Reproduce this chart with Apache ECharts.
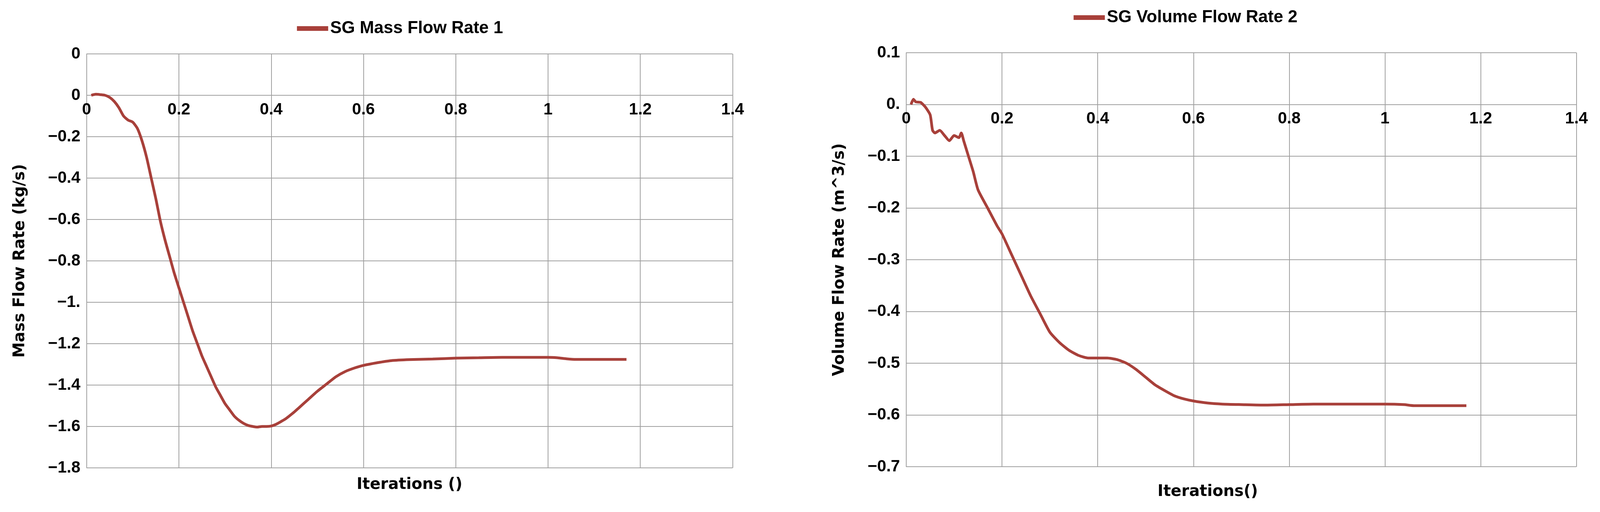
<!DOCTYPE html>
<html>
<head>
<meta charset="utf-8">
<script src="https://cdn.jsdelivr.net/npm/echarts@6/dist/echarts.min.js"></script>
<style>html,body{margin:0;padding:0;background:#fff;overflow:hidden}#c{width:100vw;height:100vh}</style>
</head>
<body>
<div id="c"></div>
<script>
// SG 质量流量
var massX = [0.01,0.02,0.03,0.04,0.05,0.06,0.07,0.08,0.09,0.1,0.11,0.12,0.13,0.14,0.15,0.16,0.17,0.18,0.19,0.2,0.21,0.22,0.23,0.24,0.25,0.26,0.27,0.28,0.29,0.3,0.31,0.32,0.33,0.34,0.35,0.36,0.37,0.38,0.39,0.4,0.41,0.42,0.43,0.44,0.45,0.46,0.48,0.5,0.52,0.54,0.56,0.58,0.6,0.63,0.66,0.7,0.75,0.8,0.85,0.9,0.95,1.0,1.02,1.04,1.06,1.1,1.14,1.17];
var massY = [0,0.005,0.003,0,-0.01,-0.03,-0.06,-0.1,-0.12,-0.13,-0.16,-0.22,-0.3,-0.4,-0.5,-0.61,-0.7,-0.78,-0.86,-0.93,-1.0,-1.07,-1.14,-1.2,-1.26,-1.31,-1.36,-1.41,-1.45,-1.49,-1.52,-1.55,-1.57,-1.585,-1.595,-1.6,-1.603,-1.6,-1.6,-1.598,-1.59,-1.578,-1.565,-1.548,-1.53,-1.51,-1.47,-1.43,-1.395,-1.36,-1.335,-1.318,-1.305,-1.292,-1.282,-1.277,-1.274,-1.27,-1.268,-1.266,-1.266,-1.266,-1.268,-1.273,-1.276,-1.276,-1.276,-1.276];
// SG 体积流量
var volX = [0.01,0.015,0.02,0.03,0.04,0.05,0.055,0.06,0.07,0.08,0.09,0.1,0.11,0.115,0.12,0.13,0.14,0.15,0.17,0.19,0.2,0.22,0.24,0.26,0.28,0.3,0.32,0.34,0.36,0.38,0.4,0.42,0.44,0.46,0.48,0.5,0.52,0.54,0.56,0.58,0.6,0.63,0.66,0.7,0.75,0.8,0.85,0.9,0.95,1.0,1.04,1.06,1.1,1.17];
var volY = [0,0.01,0.005,0.004,-0.005,-0.02,-0.05,-0.055,-0.05,-0.06,-0.07,-0.06,-0.064,-0.055,-0.07,-0.1,-0.13,-0.165,-0.2,-0.235,-0.25,-0.29,-0.33,-0.37,-0.405,-0.44,-0.46,-0.475,-0.485,-0.49,-0.49,-0.49,-0.493,-0.5,-0.512,-0.527,-0.542,-0.553,-0.563,-0.569,-0.573,-0.577,-0.579,-0.58,-0.581,-0.58,-0.579,-0.579,-0.579,-0.579,-0.58,-0.582,-0.582,-0.582];
var massTicks = {'0.2':'0','0':'0','-1':'\u22121.'};
var volTicks = {'0':'0.'};

var lineColor = '#a8403a';
var W = 4285, H = 1311;
var tickFont = {fontFamily:'Liberation Sans', fontWeight:'bold', fontSize:42, color:'#000'};
var titleFont = {fontFamily:'DejaVu Sans', fontWeight:'bold', fontSize:40, color:'#000'};
var legFont = {fontFamily:'Liberation Sans', fontWeight:'bold', fontSize:44, color:'#000'};
function px(v, tot){ return (v / tot * 100) + '%'; }

function fmt(map){
  return function(v){
    var k = String(Math.round(v*10)/10);
    if (map[k] !== undefined) return map[k];
    return k.replace('-', '\u2212');
  };
}
function pairs(xs, ys){ return xs.map(function(x,i){ return [x, ys[i]]; }); }
function xAx(idx, zeroOff){
  return {type:'value', gridIndex:idx, min:0, max:1.4, interval:0.2, position:'top', offset:-zeroOff,
    axisLine:{onZero:false, lineStyle:{color:'#a0a0a0', width:2}}, axisTick:{show:false},
    axisLabel:Object.assign({inside:true, margin:16, formatter:function(v){return String(Math.round(v*10)/10);}}, tickFont),
    splitLine:{lineStyle:{color:'#a0a0a0', width:2}}};
}
function yAx(idx, min, max, interval, map, name){
  return {type:'value', gridIndex:idx, min:min, max:max, interval:interval,
    name:name, nameLocation:'middle', nameGap:150, nameTextStyle:titleFont,
    axisLine:{show:true, lineStyle:{color:'#a0a0a0', width:2}}, axisTick:{show:false},
    axisLabel:Object.assign({margin:16, formatter:fmt(map)}, tickFont),
    splitLine:{lineStyle:{color:'#a0a0a0', width:2}}};
}
var chart = echarts.init(document.getElementById('c'));
var gh = chart.getHeight() * 1060 / H;
chart.setOption({
  animation:false,
  backgroundColor:'#fff',
  legend:[
    {data:['SG Mass Flow Rate 1'], left:px(790,W), top:px(46,H), icon:'rect', itemWidth:80, itemHeight:12, textStyle:legFont},
    {data:['SG Volume Flow Rate 2'], left:px(2870,W), top:px(18,H), icon:'rect', itemWidth:80, itemHeight:12, textStyle:legFont}
  ],
  grid:[
    {left:px(232,W), right:px(W-1962,W), top:px(138,H), height:px(1060,H)},
    {left:px(2427,W), right:px(W-4222,W), top:px(135,H), height:px(1060,H)}
  ],
  graphic:[
    {type:'text', left:px(955,W), top:px(1222,H), style:{text:'Iterations ()', font:'bold 40px "DejaVu Sans"', fill:'#000'}},
    {type:'text', left:px(3100,W), top:px(1240,H), style:{text:'Iterations()', font:'bold 40px "DejaVu Sans"', fill:'#000'}}
  ],
  xAxis:[xAx(0, gh*0.1), xAx(1, gh*0.125)],
  yAxis:[
    yAx(0, -1.8, 0.2, 0.2, massTicks, 'Mass Flow Rate (kg/s)'),
    yAx(1, -0.7, 0.1, 0.1, volTicks, 'Volume Flow Rate (m^3/s)')
  ],
  series:[
    {name:'SG Mass Flow Rate 1', type:'line', xAxisIndex:0, yAxisIndex:0, data:pairs(massX, massY), showSymbol:false, smooth:0.2, lineStyle:{width:7, color:lineColor}, itemStyle:{color:lineColor}},
    {name:'SG Volume Flow Rate 2', type:'line', xAxisIndex:1, yAxisIndex:1, data:pairs(volX, volY), showSymbol:false, smooth:0.2, lineStyle:{width:7, color:lineColor}, itemStyle:{color:lineColor}}
  ]
});
</script>
</body>
</html>
